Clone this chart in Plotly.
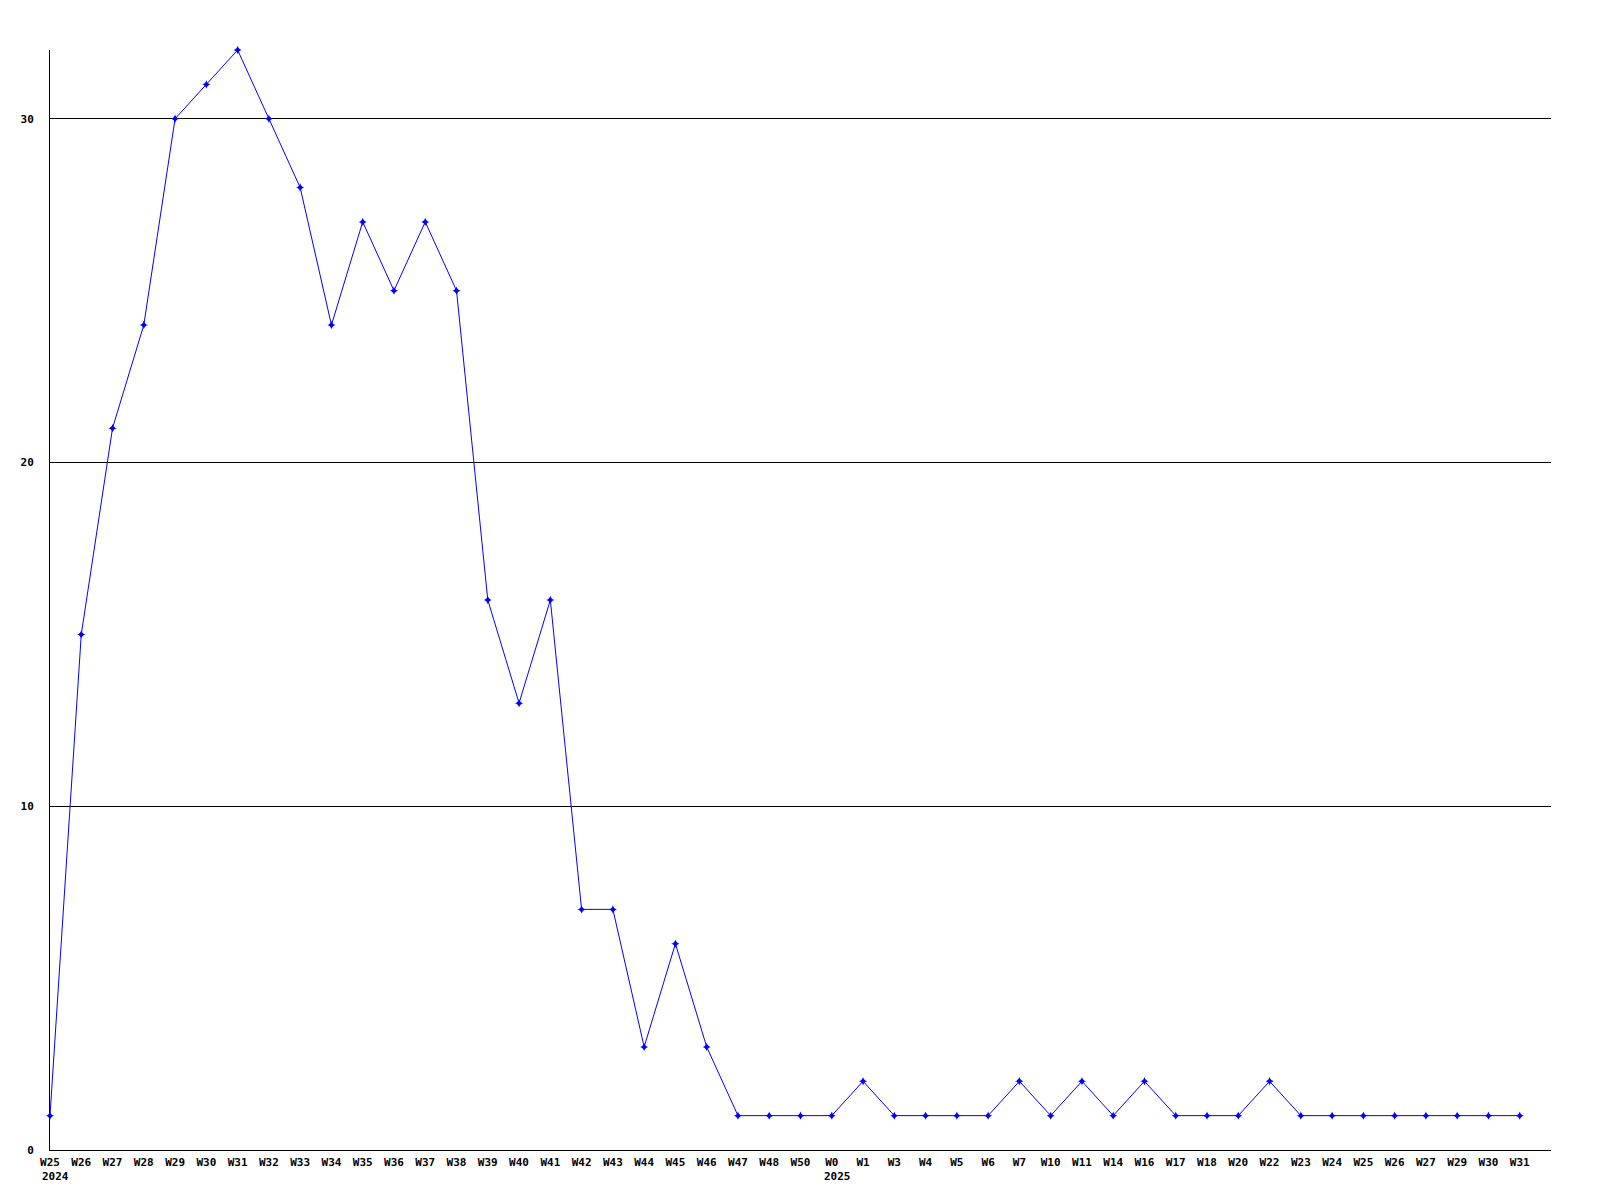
import plotly.graph_objects as go

weeks = ["W25", "W26", "W27", "W28", "W29", "W30", "W31", "W32", "W33", "W34",
         "W35", "W36", "W37", "W38", "W39", "W40", "W41", "W42", "W43", "W44",
         "W45", "W46", "W47", "W48", "W50", "W0", "W1", "W3", "W4", "W5",
         "W6", "W7", "W10", "W11", "W14", "W16", "W17", "W18", "W20", "W22",
         "W23", "W24", "W25", "W26", "W27", "W29", "W30", "W31"]
values = [1, 15, 21, 24, 30, 31, 32, 30, 28, 24,
          27, 25, 27, 25, 16, 13, 16, 7, 7, 3,
          6, 3, 1, 1, 1, 1, 2, 1, 1, 1,
          1, 2, 1, 2, 1, 2, 1, 1, 1, 2,
          1, 1, 1, 1, 1, 1, 1, 1]
year_labels = ["2024", "2025"]
year_index = [0, 25]
y_ticks = [0, 10, 20, 30]

idx = list(range(len(weeks)))
font = dict(family="DejaVu Sans Mono", size=11, color="black", weight="bold")

fig = go.Figure()
fig.add_trace(go.Scatter(
    x=idx, y=values, mode="lines+markers",
    line=dict(color="#0000ff", width=1),
    marker=dict(symbol="star-diamond", size=6, color="#0000ff"),
    hoverinfo="skip", showlegend=False, cliponaxis=False,
))

for lab, xi in zip(year_labels, year_index):
    fig.add_annotation(x=xi, y=0, xref="x", yref="paper", text=lab,
                       showarrow=False, xanchor="left", yanchor="middle",
                       xshift=-10, yshift=-26, font=font)

fig.update_layout(
    width=1600, height=1200,
    margin=dict(l=42, r=57, t=42, b=58),
    paper_bgcolor="white", plot_bgcolor="white",
    font=font,
)
fig.update_xaxes(
    range=[0, 48], tickvals=idx, ticktext=weeks, tickangle=0,
    showgrid=False, zeroline=False, showline=True, linecolor="black", linewidth=1,
    ticks="", tickfont=font, ticklabelstandoff=2,
)
fig.update_yaxes(
    range=[0, 32], tickvals=y_ticks, showgrid=True, gridcolor="black", gridwidth=1,
    zeroline=False, showline=True, linecolor="black", linewidth=1,
    ticks="", tickfont=font, ticklabelstandoff=13,
)

fig.write_html("out.html")
